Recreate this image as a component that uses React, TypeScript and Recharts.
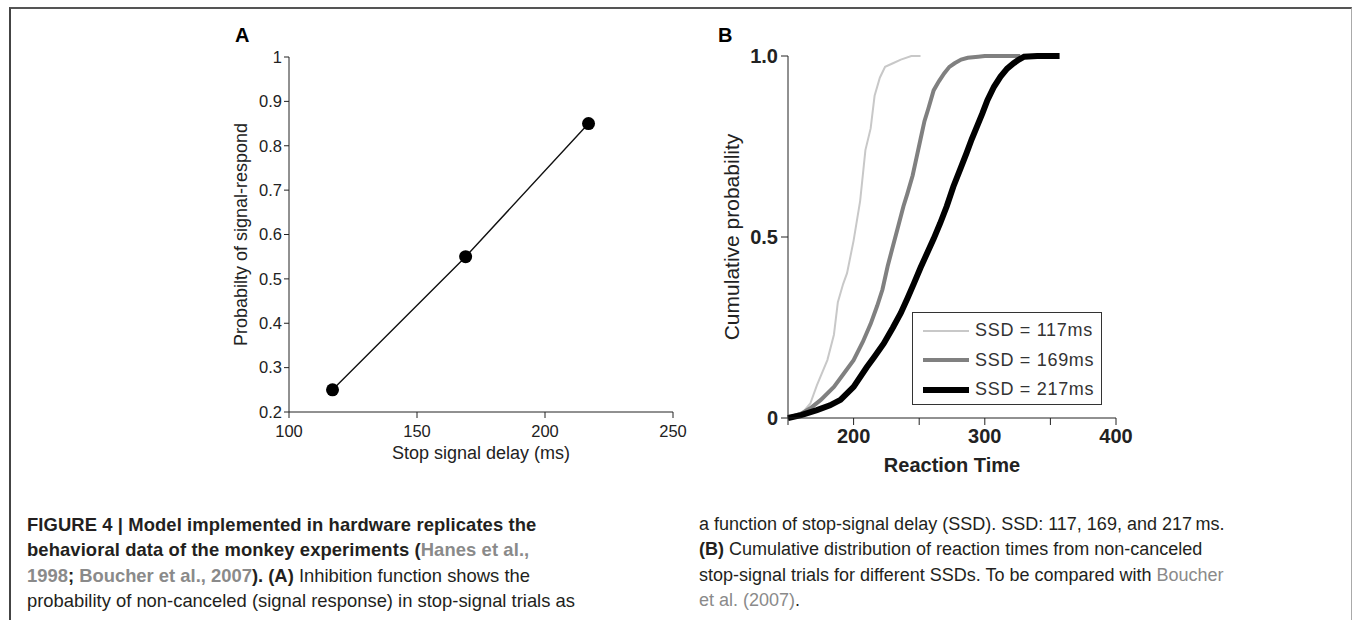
import React from 'react';
import { LineChart, Line, XAxis, YAxis, Legend } from 'recharts';

const FONT = '"Liberation Sans", Arial, Helvetica, sans-serif';

// Panel A: inhibition function
const ssdValues = [117, 169, 217];
const probSignalRespond = [0.25, 0.55, 0.85];
const xTicksA = [100, 150, 200, 250];
const yTicksA = [0.2, 0.3, 0.4, 0.5, 0.6, 0.7, 0.8, 0.9, 1];

// Panel B: cumulative RT distributions
const rt117 = [150, 160, 167, 172, 180, 185, 188, 192, 195, 200, 205, 209, 213, 216, 220, 224, 230, 236, 244, 251];
const cp117 = [0, 0.01, 0.04, 0.09, 0.16, 0.23, 0.32, 0.37, 0.4, 0.49, 0.6, 0.74, 0.8, 0.89, 0.94, 0.97, 0.98, 0.99, 1.0, 1.0];

const rt169 = [150, 160, 167, 175, 185, 192, 200, 207, 213, 218, 222, 226, 230, 234, 238, 241, 245, 248, 251, 254, 257, 261, 265, 269, 273, 277, 282, 287, 295, 300, 310, 327];
const cp169 = [0, 0.012, 0.027, 0.05, 0.086, 0.12, 0.16, 0.21, 0.26, 0.31, 0.355, 0.42, 0.475, 0.53, 0.585, 0.62, 0.67, 0.72, 0.77, 0.82, 0.855, 0.905, 0.93, 0.952, 0.97, 0.98, 0.99, 0.995, 0.998, 1.0, 1.0, 1.0];

const rt217 = [150, 160, 172, 182, 190, 200, 210, 216, 223, 230, 236, 241, 246, 251, 256, 261, 266, 271, 276, 281, 286, 290, 294, 298, 302, 307, 312, 317, 322, 326, 330, 340, 357];
const cp217 = [0, 0.008, 0.022, 0.035, 0.05, 0.086, 0.14, 0.17, 0.206, 0.25, 0.29, 0.33, 0.372, 0.415, 0.455, 0.495, 0.538, 0.585, 0.639, 0.685, 0.731, 0.77, 0.805, 0.84, 0.878, 0.915, 0.943, 0.965, 0.98, 0.99, 0.998, 1.0, 1.0];

const seriesNames = ['SSD = 117ms', 'SSD = 169ms', 'SSD = 217ms'];
const seriesColors = ['#c8c8c8', '#808080', '#000000'];
const seriesWidths = [2, 4, 6];
const xTicksB = [150, 200, 250, 300, 350, 400];
const xLabelsB = [200, 300, 400];
const yTicksB = [0, 0.5, 1];

const inhibitionData = ssdValues.map((s, i) => ({ ssd: s, p: probSignalRespond[i] }));
const toSeries = (xs: number[], ys: number[]) => xs.map((t, i) => ({ t, p: ys[i] }));
const seriesB = [toSeries(rt117, cp117), toSeries(rt169, cp169), toSeries(rt217, cp217)];

const LegendBox = () => (
  <div
    style={{
      width: 190,
      height: 93,
      border: '1px solid #333',
      background: '#fff',
      boxSizing: 'border-box',
      fontFamily: FONT,
      paddingTop: 3,
    }}
  >
    {seriesNames.map((n, i) => (
      <div key={n} style={{ display: 'flex', alignItems: 'center', height: 29.5 }}>
        <div style={{ marginLeft: 10, width: 46, height: seriesWidths[i], background: seriesColors[i] }} />
        <span style={{ marginLeft: 6, fontSize: 18, color: '#333', letterSpacing: 0.7 }}>{n}</span>
      </div>
    ))}
  </div>
);

const gray = '#8a8a8a';

export default function App() {
  return (
    <div style={{ position: 'absolute', left: 0, top: 0, width: 1355, height: 620, overflow: 'hidden', background: '#fff' }}>
      {/* frame */}
      <div
        style={{
          position: 'absolute',
          left: 9,
          top: 7,
          width: 1343,
          height: 700,
          borderTop: '2px solid #555',
          borderLeft: '2px solid #444',
          borderRight: '1px solid #aaa',
          boxSizing: 'border-box',
        }}
      />

      {/* Panel labels */}
      <div style={{ position: 'absolute', left: 235, top: 24, fontFamily: FONT, fontWeight: 700, fontSize: 20, color: '#000' }}>A</div>
      <div style={{ position: 'absolute', left: 718, top: 24, fontFamily: FONT, fontWeight: 700, fontSize: 20, color: '#000' }}>B</div>

      {/* Panel A */}
      <div style={{ position: 'absolute', left: 200, top: 20 }}>
        <LineChart width={500} height={450} data={inhibitionData} margin={{ top: 37, right: 27, left: 0, bottom: 0 }}>
          <XAxis
            dataKey="ssd"
            type="number"
            domain={[100, 250]}
            ticks={xTicksA}
            height={58}
            stroke="#222"
            tickSize={6}
            tickMargin={7}
            tick={{ fill: '#222', fontSize: 16.5, fontFamily: FONT }}
            label={{ value: 'Stop signal delay (ms)', position: 'insideBottom', offset: 11, style: { fill: '#222', fontSize: 18, fontFamily: FONT } }}
          />
          <YAxis
            type="number"
            domain={[0.2, 1]}
            ticks={yTicksA}
            width={89}
            stroke="#222"
            tickSize={5}
            tick={{ fill: '#222', fontSize: 16.5, fontFamily: FONT }}
            label={{ value: 'Probabilty of signal-respond', angle: -90, position: 'insideLeft', offset: 41, style: { textAnchor: 'middle', fill: '#222', fontSize: 18, fontFamily: FONT } }}
          />
          <Line
            dataKey="p"
            stroke="#111"
            strokeWidth={1.4}
            isAnimationActive={false}
            dot={{ r: 6.5, fill: '#000', stroke: '#000', strokeWidth: 0 }}
            activeDot={false}
          />
        </LineChart>
      </div>

      {/* Panel B */}
      <div style={{ position: 'absolute', left: 700, top: 20 }}>
        <LineChart width={480} height={470} margin={{ top: 36, right: 64, left: 0, bottom: 0 }}>
          <XAxis
            dataKey="t"
            type="number"
            domain={[150, 400]}
            ticks={xTicksB}
            allowDuplicatedCategory={false}
            height={72}
            stroke="#222"
            tickSize={7}
            tickMargin={4}
            tickFormatter={(v: number) => (xLabelsB.includes(v) ? String(v) : '')}
            tick={{ fill: '#222', fontSize: 20, fontWeight: 700, fontFamily: FONT }}
            label={{ value: 'Reaction Time', position: 'insideBottom', offset: 18, style: { fill: '#222', fontSize: 20, fontWeight: 700, fontFamily: FONT } }}
          />
          <YAxis
            type="number"
            domain={[0, 1]}
            ticks={yTicksB}
            width={88}
            stroke="#222"
            tickSize={7}
            tickMargin={3}
            tickFormatter={(v: number) => (v === 1 ? '1.0' : String(v))}
            tick={{ fill: '#222', fontSize: 20, fontWeight: 700, fontFamily: FONT }}
            label={{ value: 'Cumulative probability', angle: -90, position: 'insideLeft', offset: 32, style: { textAnchor: 'middle', fill: '#222', fontSize: 21, fontFamily: FONT } }}
          />
          {seriesB.map((d, i) => (
            <Line
              key={seriesNames[i]}
              data={d}
              dataKey="p"
              name={seriesNames[i]}
              stroke={seriesColors[i]}
              strokeWidth={seriesWidths[i]}
              dot={false}
              activeDot={false}
              isAnimationActive={false}
            />
          ))}
          <Legend
            layout="vertical"
            align="center"
            verticalAlign="middle"
            content={() => <LegendBox />}
            wrapperStyle={{ position: 'absolute', left: 212, top: 292, width: 190, height: 93 }}
          />
        </LineChart>
      </div>

      {/* Caption, left column */}
      <div style={{ position: 'absolute', left: 27, top: 512, fontFamily: FONT, fontSize: 18.4, lineHeight: '25.3px', color: '#231f20', whiteSpace: 'nowrap' }}>
        <div style={{ fontWeight: 700, letterSpacing: 0.1 }}>FIGURE 4 | Model implemented in hardware replicates the</div>
        <div style={{ fontWeight: 700, letterSpacing: 0.1 }}>
          behavioral data of the monkey experiments (<span style={{ color: gray }}>Hanes et al.,</span>
        </div>
        <div>
          <b><span style={{ color: gray }}>1998</span>; <span style={{ color: gray }}>Boucher et al., 2007</span>). (A)</b> Inhibition function shows the
        </div>
        <div>probability of non-canceled (signal response) in stop-signal trials as</div>
      </div>

      {/* Caption, right column */}
      <div style={{ position: 'absolute', left: 699, top: 512, fontFamily: FONT, fontSize: 18, lineHeight: '25.3px', color: '#231f20', whiteSpace: 'nowrap' }}>
        <div>a function of stop-signal delay (SSD). SSD: 117, 169, and 217&#8201;ms.</div>
        <div>
          <b>(B)</b> Cumulative distribution of reaction times from non-canceled
        </div>
        <div>
          stop-signal trials for different SSDs. To be compared with <span style={{ color: gray }}>Boucher</span>
        </div>
        <div>
          <span style={{ color: gray }}>et al. (2007)</span>.
        </div>
      </div>
    </div>
  );
}
